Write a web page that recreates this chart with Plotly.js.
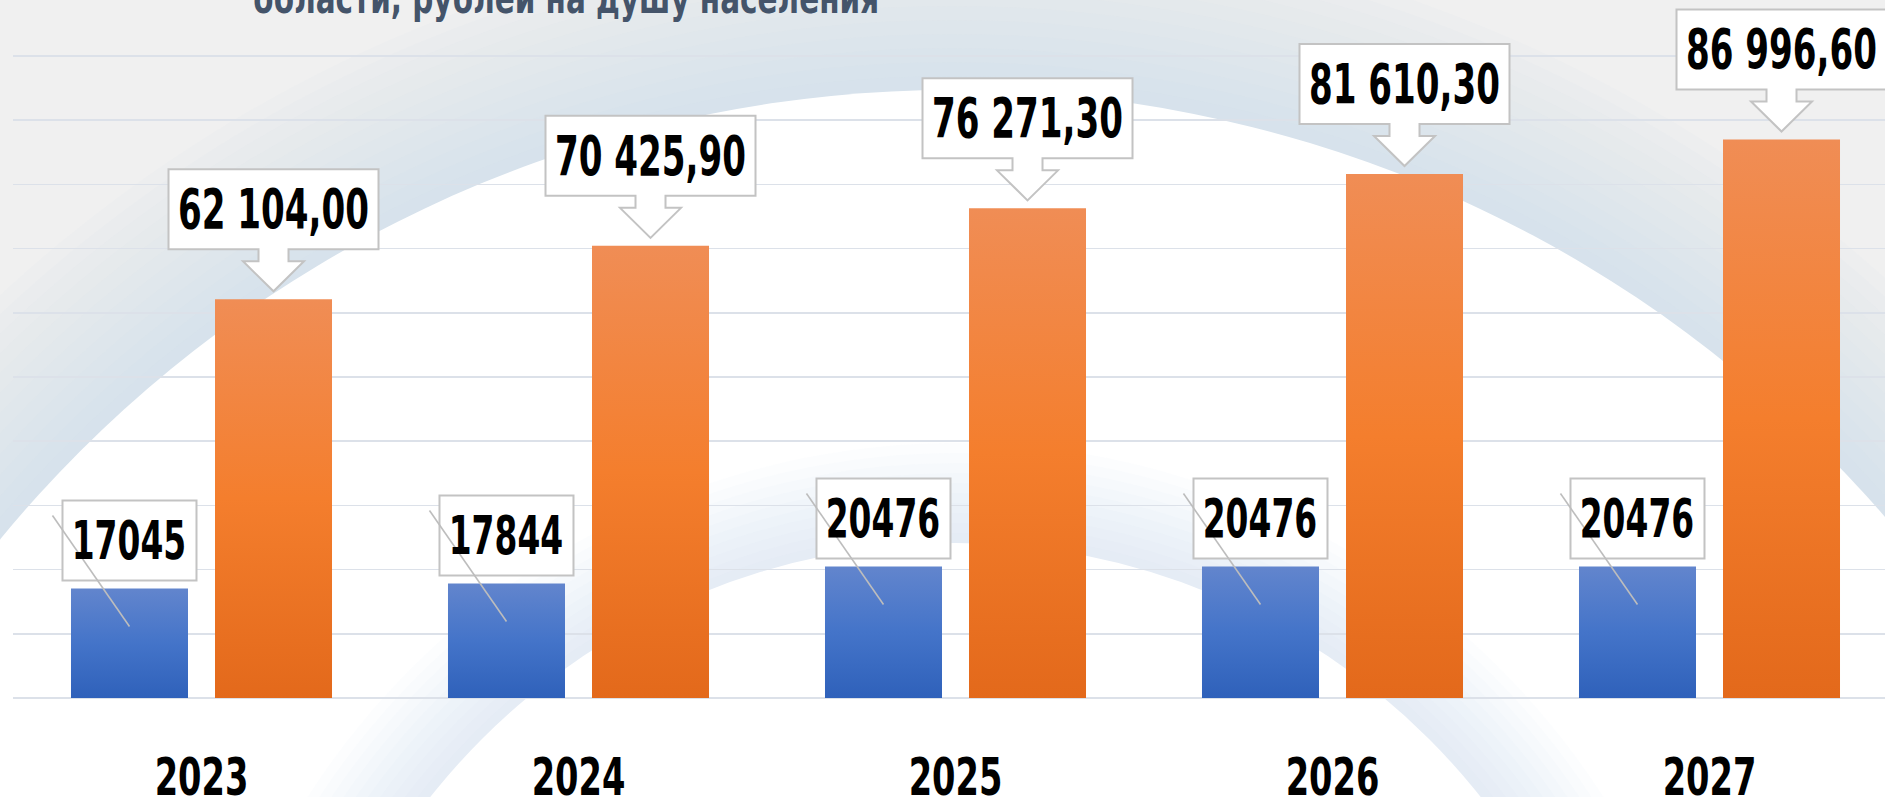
<!DOCTYPE html>
<html><head><meta charset="utf-8">
<script src="https://cdn.plot.ly/plotly-3.0.1.min.js"></script>
<style>html,body{margin:0;padding:0;background:#F0F0F0;overflow:hidden}#chart{width:1885px;height:797px}</style>
</head><body><div id="chart"></div>
<script>
// ---- data ----
const years = ['2023', '2024', '2025', '2026', '2027'];
const seriesA = [17045, 17844, 20476, 20476, 20476];
const seriesB = [62104.00, 70425.90, 76271.30, 81610.30, 86996.60];
const labelsA = ['17045', '17844', '20476', '20476', '20476'];
const labelsB = ['62 104,00', '70 425,90', '76 271,30', '81 610,30', '86 996,60'];
const titleLine = 'области, рублей на душу населения';

// ---- layout constants ----
const W = 1885, H = 797, ML = 13, MB = 99;
const PW = W - ML, PH = H - MB;
const CAT = 377;                       // px per category
const Y_MAX = 100000 * PH / 642;       // gridline 100000 sits 642px above the baseline
const BARGAP = 0.236, GROUPGAP = 0.1875;
const OFF = (1 - BARGAP) / 4;          // centre offset of each bar in a group
const FONT = '"DejaVu Sans Condensed", "DejaVu Sans", sans-serif';
const idx = years.map((_, i) => i);

const data = [
  { type: 'bar', x: idx, y: seriesA, marker: { color: '#4472C4' }, hoverinfo: 'none', showlegend: false },
  { type: 'bar', x: idx, y: seriesB, marker: { color: '#ED7D31' }, hoverinfo: 'none', showlegend: false }
];

// background decoration (slide artwork)
function circ(cx, cy, r, fill, op) {
  return { type: 'circle', xref: 'paper', yref: 'paper', layer: 'below',
    x0: (cx - r - ML) / PW, x1: (cx + r - ML) / PW,
    y0: (PH - (cy + r)) / PH, y1: (PH - (cy - r)) / PH,
    fillcolor: fill, opacity: op, line: { width: 0 } };
}
const shapes = [];
const BIG = { cx: 952, cy: 1323, r: 1233 }, SMALL = { cx: 955.5, cy: 1213, r: 670 };
for (let k = 12; k >= 1; k--) shapes.push(circ(BIG.cx, BIG.cy, BIG.r + k * 14, '#C9D2E4', 0.05));
shapes.push(circ(BIG.cx, BIG.cy, BIG.r, '#FFFFFF', 1));
for (let k = 10; k >= 1; k--) shapes.push(circ(SMALL.cx, SMALL.cy, SMALL.r + k * 10, '#CBD6EA', 0.055));
shapes.push(circ(SMALL.cx, SMALL.cy, SMALL.r, '#FFFFFF', 1));

// label boxes, leader lines, callouts (anchored to the bars through the axes)
const annotations = [];
const BOX = { line: { color: '#C3C3C3', width: 2 }, fillcolor: '#FFFFFF' };
seriesA.forEach((v, i) => {
  shapes.push(Object.assign({ type: 'path', xref: 'x', yref: 'y', xsizemode: 'pixel', ysizemode: 'pixel',
    xanchor: i - OFF, yanchor: v, path: 'M -67 8 L 67 8 L 67 88 L -67 88 Z', layer: 'above' }, BOX));
  shapes.push({ type: 'path', xref: 'x', yref: 'y', xsizemode: 'pixel', ysizemode: 'pixel',
    xanchor: i - OFF, yanchor: v, path: 'M -77 73 L 0 -38', layer: 'above', line: { color: '#BDBDBD', width: 1.6 } });
  annotations.push({ x: i - OFF, y: v, xref: 'x', yref: 'y', text: labelsA[i], showarrow: false,
    yanchor: 'middle', yshift: 48, font: { family: FONT, size: 53, color: '#000000', weight: 700 } });
});
seriesB.forEach((v, i) => {
  shapes.push(Object.assign({ type: 'path', xref: 'x', yref: 'y', xsizemode: 'pixel', ysizemode: 'pixel',
    xanchor: i + OFF, yanchor: v, layer: 'above',
    path: 'M -105 130 L 105 130 L 105 50 L 15 50 L 15 38 L 30.5 38 L 0 8 L -30.5 38 L -15 38 L -15 50 L -105 50 Z' }, BOX));
  annotations.push({ x: i + OFF, y: v, xref: 'x', yref: 'y', text: labelsB[i], showarrow: false,
    yanchor: 'middle', yshift: 90, font: { family: FONT, size: 55, color: '#000000', weight: 700 } });
});
annotations.push({ xref: 'paper', yref: 'paper', x: (566 - ML) / PW, y: 1, xanchor: 'center', yanchor: 'middle',
  yshift: 2, text: titleLine, showarrow: false, font: { family: FONT, size: 42, color: '#44546A', weight: 700 } });

const layout = {
  width: W, height: H,
  margin: { l: ML, r: 0, t: 0, b: MB, pad: 0 },
  paper_bgcolor: '#F0F0F0', plot_bgcolor: 'rgba(0,0,0,0)',
  barmode: 'group', bargap: BARGAP, bargroupgap: GROUPGAP,
  showlegend: false,
  xaxis: { type: 'linear', range: [-0.5, -0.5 + PW / CAT], tickvals: idx, ticktext: years,
    showgrid: false, zeroline: false, showline: false, ticks: '', ticklabelstandoff: 44,
    tickfont: { family: FONT, size: 52, color: '#000000', weight: 700 }, fixedrange: true },
  yaxis: { range: [0, Y_MAX], dtick: 10000, tick0: 0, showticklabels: false, ticks: '',
    showgrid: true, gridcolor: '#DCE1E9', gridwidth: 1.6,
    zeroline: true, zerolinecolor: '#DCE1E9', zerolinewidth: 2, showline: false, fixedrange: true },
  shapes: shapes, annotations: annotations
};

Plotly.newPlot('chart', data, layout, { staticPlot: true, displayModeBar: false }).then(gd => {
  const ns = 'http://www.w3.org/2000/svg';
  const svg = gd.querySelector('.main-svg');
  let defs = svg.querySelector('defs');
  if (!defs) { defs = document.createElementNS(ns, 'defs'); svg.insertBefore(defs, svg.firstChild); }
  function grad(id, stops) {
    const lg = document.createElementNS(ns, 'linearGradient');
    lg.setAttribute('id', id); lg.setAttribute('x1', '0'); lg.setAttribute('y1', '0');
    lg.setAttribute('x2', '0'); lg.setAttribute('y2', '1');
    stops.forEach(([o, c]) => { const s = document.createElementNS(ns, 'stop'); s.setAttribute('offset', o); s.setAttribute('stop-color', c); lg.appendChild(s); });
    defs.appendChild(lg);
  }
  grad('gradA', [['0', '#6285CD'], ['0.5', '#4474C9'], ['1', '#2F61BA']]);
  grad('gradB', [['0', '#F08D55'], ['0.5', '#F47E2D'], ['1', '#E3691B']]);
  gd.querySelectorAll('.barlayer .trace').forEach((t, i) => {
    t.querySelectorAll('.point path').forEach(p => { p.style.fill = 'url(#' + (i === 0 ? 'gradA' : 'gradB') + ')'; });
  });
  // narrow the lettering horizontally to mimic the condensed typeface of the original
  function squeeze(el, sx) {
    const bb = el.getBBox();
    const cx = bb.x + bb.width / 2;
    const prev = el.getAttribute('transform') || '';
    el.setAttribute('transform', (prev + ' translate(' + cx + ',0) scale(' + sx + ',1) translate(' + (-cx) + ',0)').trim());
  }
  gd.querySelectorAll('.annotation-text').forEach(el => {
    squeeze(el, el.textContent === titleLine ? 0.78 : 0.69);
  });
  gd.querySelectorAll('.xtick text').forEach(el => squeeze(el, 0.72));
});
</script></body></html>
